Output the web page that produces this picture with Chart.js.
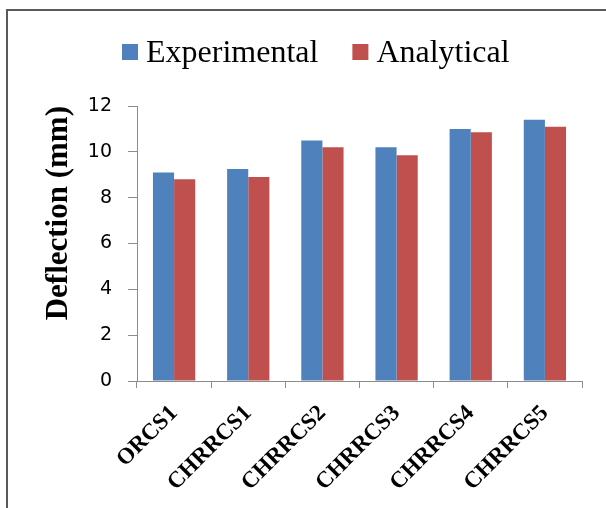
<!DOCTYPE html>
<html>
<head>
<meta charset="utf-8">
<script src="https://cdn.jsdelivr.net/npm/chart.js@4.4.1/dist/chart.umd.min.js"></script>
<style>
  html, body { margin: 0; padding: 0; background: #fff; overflow: hidden; }
  #wrap { position: relative; width: 606px; height: 508px; }
  #frame { position: absolute; left: 6px; top: 9px; width: 700px; height: 600px;
           border: 2px solid #5a5a5a; box-sizing: border-box; }
  canvas { position: absolute; left: 0; top: 0; }
</style>
</head>
<body>
<div id="wrap">
  <div id="frame"></div>
  <canvas id="c" width="606" height="508"></canvas>
</div>
<script>
// Specimens tested
const categories = ['ORCS1', 'CHRRCS1', 'CHRRCS2', 'CHRRCS3', 'CHRRCS4', 'CHRRCS5'];
// Mid-span deflection (mm)
const experimental = [9.1, 9.25, 10.5, 10.2, 11.0, 11.4];
const analytical = [8.8, 8.9, 10.2, 9.85, 10.85, 11.1];
const yTicks = [0, 2, 4, 6, 8, 10, 12];

const serif = '"Liberation Serif", "Times New Roman", serif';
const sans = '"DejaVu Sans", sans-serif';

// Legend row: square swatch, then the series name, drawn above the plot
const topLegend = {
  id: 'topLegend',
  afterDraw(chart) {
    const ctx = chart.ctx;
    const box = 16, gapText = 8, gapItem = 34;
    let x = 122;
    const boxTop = 44, baseline = 62;
    ctx.save();
    ctx.font = '32px ' + serif;
    ctx.textBaseline = 'alphabetic';
    ctx.textAlign = 'left';
    chart.data.datasets.forEach(ds => {
      ctx.fillStyle = ds.backgroundColor;
      ctx.fillRect(x, boxTop, box, box);
      x += box + gapText;
      ctx.fillStyle = '#000';
      ctx.fillText(ds.label, x, baseline);
      x += ctx.measureText(ds.label).width + gapItem;
    });
    ctx.restore();
  }
};

new Chart(document.getElementById('c'), {
  type: 'bar',
  data: {
    labels: categories,
    datasets: [
      { label: 'Experimental', data: experimental, backgroundColor: '#4F81BD',
        categoryPercentage: 0.57, barPercentage: 1.0 },
      { label: 'Analytical', data: analytical, backgroundColor: '#C0504D',
        categoryPercentage: 0.57, barPercentage: 1.0 }
    ]
  },
  plugins: [topLegend],
  options: {
    responsive: false,
    animation: false,
    events: [],
    layout: { padding: { left: 40, right: 24, top: 106, bottom: 0 } },
    plugins: {
      tooltip: { enabled: false },
      legend: { display: false }
    },
    scales: {
      x: {
        afterFit(scale) { scale.height = 127; },
        grid: { drawOnChartArea: false, drawTicks: true, tickLength: 7, color: '#8c8c8c', offset: true },
        border: { color: '#8c8c8c', width: 1 },
        ticks: {
          color: '#000', minRotation: 45, maxRotation: 45, padding: 12,
          font: { family: serif, size: 23, weight: 'bold' }
        }
      },
      y: {
        min: 0, max: 12,
        afterFit(scale) { scale.width = 97; },
        afterBuildTicks(scale) { scale.ticks = yTicks.map(v => ({ value: v })); },
        grid: { drawOnChartArea: false, drawTicks: true, tickLength: 9, color: '#8c8c8c' },
        border: { color: '#8c8c8c', width: 1 },
        ticks: {
          color: '#000', padding: 16,
          font: { family: sans, size: 19 }
        },
        title: {
          display: true, text: 'Deflection (mm)', color: '#000', align: 'end',
          font: { family: serif, size: 31, weight: 'bold' },
          padding: { top: 0, bottom: 0 }
        }
      }
    }
  }
});
</script>
</body>
</html>
